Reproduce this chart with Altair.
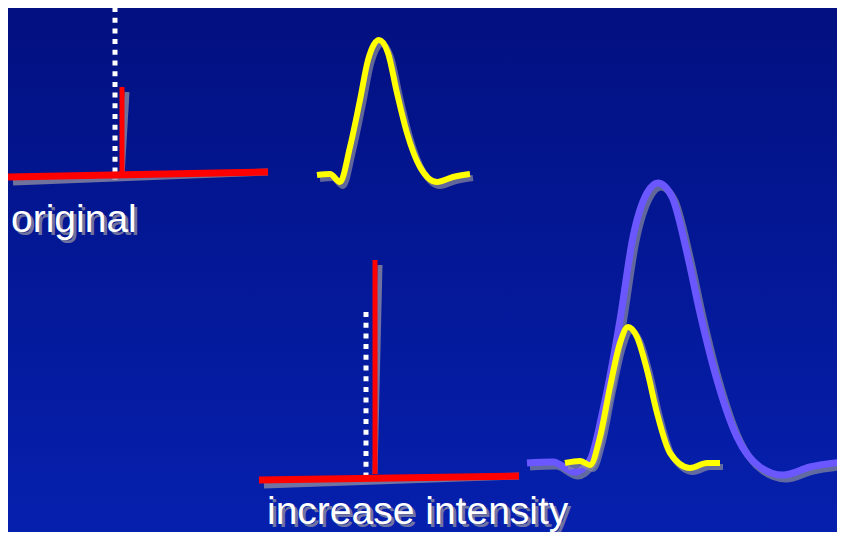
import altair as alt
import pandas as pd

# ---- data (picture coordinates) ----
# straight segments: red axes / sticks and white dotted references
red_x1 = [8, 122, 259, 375]
red_y1 = [177, 87, 480, 260]
red_x2 = [268, 122, 519, 375]
red_y2 = [172, 176, 476, 474]
red_w = [7, 5, 7, 5]

dot_x1 = [115, 366]
dot_y1 = [7, 312]
dot_x2 = [115, 366]
dot_y2 = [180, 483]

# top yellow peak (original)
y1_x = [317, 330, 340, 350, 360, 368, 379, 388, 397, 407, 420, 437, 453, 470]
y1_y = [175, 174, 182, 147, 100, 60, 40, 53, 93, 133, 167, 182, 177, 174]

# purple broad peak (increased intensity)
p_x = [527, 553, 575, 590, 603, 620, 633, 647, 658, 672, 687, 700, 717, 737, 760, 783, 810, 845]
p_y = [463, 462, 472, 460, 410, 320, 237, 193, 183, 197, 253, 313, 380, 437, 467, 475, 467, 462]

# bottom yellow peak
y2_x = [565, 580, 590, 600, 610, 620, 628, 637, 647, 657, 670, 690, 707, 720]
y2_y = [463, 461, 465, 437, 387, 343, 327, 337, 370, 413, 453, 468, 463, 463]

labels = ["original", "increase intensity"]
label_x = [11, 267]
label_y = [232, 524]

# page has an 8px margin: visible area is 829 x 524 starting at (8, 8)
W, H = 829, 524
xs = alt.Scale(domain=[8, 8 + W], nice=False, zero=False)
ys = alt.Scale(domain=[8, 8 + H], reverse=True, nice=False, zero=False)
SHADOW = "#8a8aa0"

bg = alt.Chart(pd.DataFrame({"a": [0]})).mark_rect(
    fill=alt.LinearGradient(
        gradient="linear",
        stops=[alt.GradientStop(color="#021080", offset=0),
               alt.GradientStop(color="#0620ae", offset=1)],
        x1=0, x2=0, y1=0, y2=1),
    stroke=None,
).encode(x=alt.value(0), x2=alt.value(W), y=alt.value(0), y2=alt.value(H))

red_df = pd.DataFrame({"x": red_x1, "y": red_y1, "x2": red_x2, "y2": red_y2, "w": red_w})
dot_df = pd.DataFrame({"x": dot_x1, "y": dot_y1, "x2": dot_x2, "y2": dot_y2})


def seg(df, color, width=None, dash=None, dx=0, dy=0, opacity=1.0):
    kw = dict(color=color, strokeCap="butt", opacity=opacity, xOffset=dx, yOffset=dy)
    if dash:
        kw["strokeDash"] = dash
    enc = dict(x=alt.X("x:Q", scale=xs, axis=None), y=alt.Y("y:Q", scale=ys, axis=None),
               x2="x2:Q", y2="y2:Q")
    if width is None:
        enc["strokeWidth"] = alt.StrokeWidth("w:Q", scale=None, legend=None)
    else:
        kw["strokeWidth"] = width
    return alt.Chart(df).mark_rule(**kw).encode(**enc)


def curve(xv, yv, color, width, dx=0, dy=0, opacity=1.0):
    df = pd.DataFrame({"x": xv, "y": yv, "i": list(range(len(xv)))})
    return alt.Chart(df).mark_line(
        color=color, strokeWidth=width, interpolate="monotone",
        strokeCap="butt", strokeJoin="round", opacity=opacity,
        xOffset=dx, yOffset=dy,
    ).encode(x=alt.X("x:Q", scale=xs, axis=None), y=alt.Y("y:Q", scale=ys, axis=None),
             order="i:Q")


lab_df = pd.DataFrame({"t": labels, "x": label_x, "y": label_y})


def text(color, dx=0, dy=0, opacity=1.0):
    return alt.Chart(lab_df).mark_text(
        font="Liberation Sans", fontSize=39, color=color, align="left",
        baseline="alphabetic", dx=dx, dy=dy, opacity=opacity,
    ).encode(x=alt.X("x:Q", scale=xs, axis=None), y=alt.Y("y:Q", scale=ys, axis=None), text="t:N")


layers = [
    bg,
    seg(dot_df, "white", width=5, dash=[5, 5.7]),
    seg(red_df, SHADOW, dx=5, dy=5, opacity=0.8),
    seg(red_df, "#ff0000"),
    curve(y1_x, y1_y, SHADOW, 6, dx=3, dy=4, opacity=0.7),
    curve(y1_x, y1_y, "#ffff00", 6),
    curve(p_x, p_y, SHADOW, 7, dx=3, dy=4, opacity=0.7),
    curve(p_x, p_y, "#6b57ff", 7),
    curve(y2_x, y2_y, SHADOW, 6, dx=3, dy=4, opacity=0.7),
    curve(y2_x, y2_y, "#ffff00", 6),
    text(SHADOW, dx=3, dy=3, opacity=0.8),
    text("white"),
]

chart = alt.layer(*layers).properties(
    width=W, height=H, padding=0, autosize=alt.AutoSizeParams(type="none"),
    background="#021080",
).configure_view(stroke=None)

chart.save("out.html", embed_options={"renderer": "svg", "actions": False})
